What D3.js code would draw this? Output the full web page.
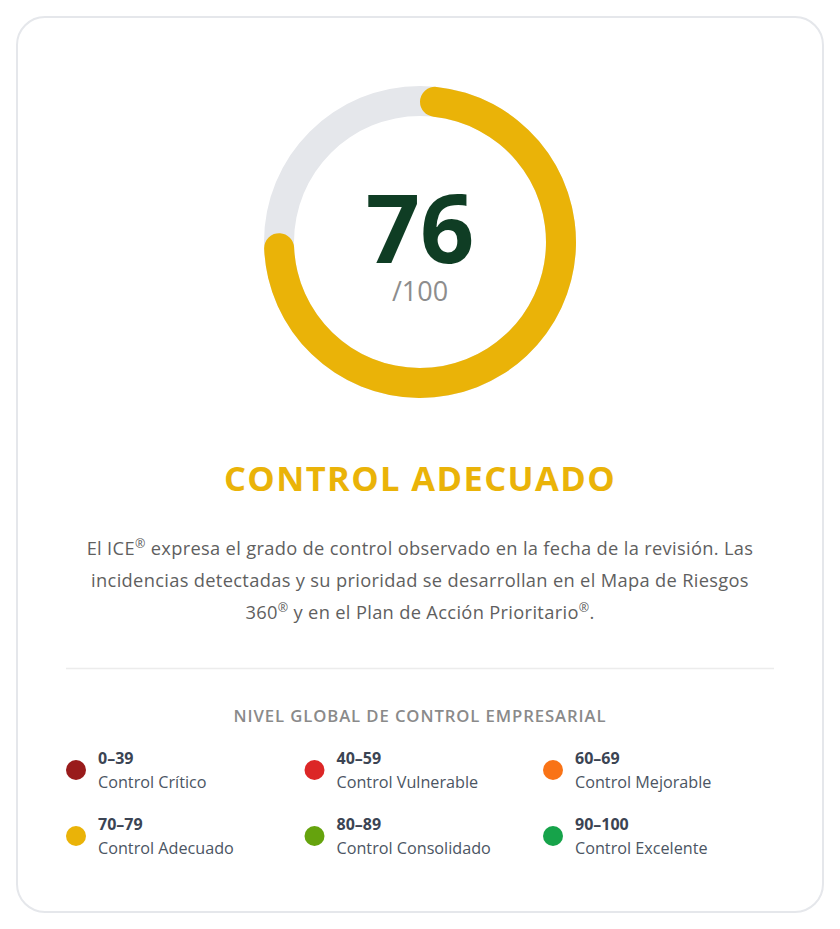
<!DOCTYPE html>
<html><head><meta charset="utf-8">
<script src="https://cdn.jsdelivr.net/npm/d3@7"></script>
<style>
html,body{margin:0;padding:0;background:#fff;}
svg{display:block;font-family:"Open Sans","Noto Sans",sans-serif;}
</style></head>
<body>
<div id="chart"></div>
<script>
const score = 76;
const maxScore = 100;
const levelTitle = "CONTROL ADECUADO";
const legendTitle = "NIVEL GLOBAL DE CONTROL EMPRESARIAL";
const levelRanges = ["0–39","40–59","60–69","70–79","80–89","90–100"];
const levelNames = ["Control Crítico","Control Vulnerable","Control Mejorable","Control Adecuado","Control Consolidado","Control Excelente"];
const levelColors = ["#991b1b","#dc2626","#f97316","#eab308","#65a30d","#16a34a"];
const paragraphLines = [
  [["El ICE",0],["®",1],[" expresa el grado de control observado en la fecha de la revisión. Las",0]],
  [["incidencias detectadas y su prioridad se desarrollan en el Mapa de Riesgos",0]],
  [["360",0],["®",1],[" y en el Plan de Acción Prioritario",0],["®",1],[".",0]]
];

const W = 840, H = 929;
const svg = d3.select("#chart").append("svg").attr("width", W).attr("height", H);

svg.append("rect").attr("x",17).attr("y",17).attr("width",806).attr("height",895)
  .attr("rx",28).attr("fill","#fff").attr("stroke","#e5e7eb").attr("stroke-width",2);

// Gauge
const cx = 420, cy = 242, r = 141, sw = 30;
const angle = d3.scaleLinear().domain([0, maxScore]).range([0, 2*Math.PI]);
const g = svg.append("g").attr("transform", `translate(${cx},${cy})`);
const arcGen = d3.arc().innerRadius(r - sw/2).outerRadius(r + sw/2).cornerRadius(sw/2);
g.append("path").attr("d", d3.arc().innerRadius(r - sw/2).outerRadius(r + sw/2)({startAngle:0,endAngle:2*Math.PI})).attr("fill","#e5e7eb");
g.append("path").attr("d", arcGen({startAngle:0,endAngle:angle(score)})).attr("fill","#eab308");

g.append("text").attr("text-anchor","middle").attr("y",21)
  .attr("font-size",95).attr("font-weight",700).attr("fill","#0f3d24").text(score);
g.append("text").attr("text-anchor","middle").attr("y",59)
  .attr("font-size",27).attr("fill","#8d8d8d").text("/" + maxScore);

svg.append("text").attr("x",cx).attr("y",491).attr("text-anchor","middle")
  .attr("font-size",34.5).attr("font-weight",700).attr("letter-spacing",1.4).attr("fill","#eab308").text(levelTitle);

// Paragraph
paragraphLines.forEach((parts,i) => {
  const t = svg.append("text").attr("x",cx).attr("y",555 + i*32).attr("text-anchor","middle")
    .attr("font-size",18.3).attr("letter-spacing",0.32).attr("fill","#5f5f5f");
  parts.forEach(([s,sup]) => {
    const ts = t.append("tspan").text(s);
    if (sup) ts.attr("font-size",12.5).attr("baseline-shift","55%");
  });
});

svg.append("line").attr("x1",66).attr("x2",774).attr("y1",668.5).attr("y2",668.5)
  .attr("stroke","#ececec").attr("stroke-width",1.5);

svg.append("text").attr("x",cx).attr("y",722).attr("text-anchor","middle")
  .attr("font-size",16.7).attr("font-weight",600).attr("fill","#8a8a8a").attr("letter-spacing",0.9).text(legendTitle);

const colX = d3.scalePoint().domain([0,1,2]).range([76, 553]);
const rowY = d3.scalePoint().domain([0,1]).range([770, 836]);
levelRanges.forEach((rng,i) => {
  const c = i % 3, rw = Math.floor(i/3);
  const x = colX(c), y = rowY(rw);
  svg.append("circle").attr("cx",x).attr("cy",y).attr("r",10).attr("fill",levelColors[i]);
  svg.append("text").attr("x",x+22).attr("y",y-6).attr("font-size",16).attr("font-weight",700)
    .attr("fill","#3b4453").text(rng);
  svg.append("text").attr("x",x+22).attr("y",y+18).attr("font-size",16.2)
    .attr("fill","#4b5563").text(levelNames[i]);
});
</script>
</body></html>
